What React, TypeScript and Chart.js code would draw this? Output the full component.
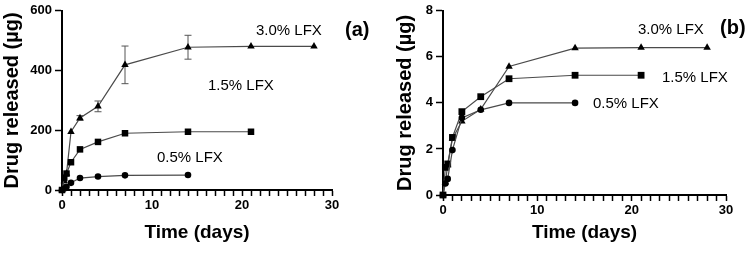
import React, { useEffect, useRef } from "react";
import { Chart, registerables } from "chart.js";

Chart.register(...registerables);

const FONT = "'Liberation Sans', Arial, Helvetica, sans-serif";

// ---------- Panel (a): Drug released (µg) ----------
const aTime05 = [0, 0.25, 0.5, 1, 2, 4, 7, 14];
const aVal05 = [0, 5, 11, 24, 40, 45, 49, 50];

const aTime15 = [0, 0.25, 0.5, 1, 2, 4, 7, 14, 21];
const aVal15 = [0, 40, 55, 93, 136, 161, 190, 195, 195];

const aTime30 = [0, 0.25, 0.5, 1, 2, 4, 7, 14, 21, 28];
const aVal30 = [0, 30, 55, 195, 241, 280, 419, 478, 481, 481];
const aErr30 = [0, 0, 0, 0, 8, 18, 63, 40, 0, 0];

// ---------- Panel (b): Drug released (µg) ----------
const bTime05 = [0, 0.25, 0.5, 1, 2, 4, 7, 14];
const bVal05 = [0, 0.5, 0.7, 1.95, 3.35, 3.7, 4.0, 4.0];

const bTime15 = [0, 0.25, 0.5, 1, 2, 4, 7, 14, 21];
const bVal15 = [0, 1.2, 1.35, 2.5, 3.62, 4.27, 5.05, 5.2, 5.2];

const bTime30 = [0, 0.25, 0.5, 1, 2, 4, 7, 14, 21, 28];
const bVal30 = [0, 0.55, 1.3, 2.45, 3.2, 3.72, 5.58, 6.38, 6.4, 6.4];

const seriesNames = ["0.5% LFX", "1.5% LFX", "3.0% LFX"];
const xTitle = "Time (days)";
const yTitle = "Drug released (µg)";

type Label = { text: string; x: number; y: number; bold?: boolean; size: number };

function pts(t: number[], v: number[]) {
  return t.map((x, i) => ({ x, y: v[i] }));
}

function makeConfig(opts: {
  d05: { x: number; y: number }[];
  d15: { x: number; y: number }[];
  d30: { x: number; y: number }[];
  err30: number[] | null;
  yMax: number;
  yStep: number;
  yWidth: number;
  xHeight: number;
  padTop: number;
  padRight: number;
  yTitlePad: number;
  labels: Label[];
  pr: { c: number; r: number; t: number };
}) {
  const line = "#4a4a4a";
  const common = {
    showLine: true,
    borderColor: line,
    borderWidth: 1.2,
    pointBackgroundColor: "#000",
    pointBorderColor: "#000",
    pointBorderWidth: 0,
    clip: false as any,
    tension: 0,
  };
  const overlay = {
    id: "overlay",
    beforeDatasetsDraw(chart: any) {
      if (!opts.err30) return;
      const ctx = chart.ctx;
      const xs = chart.scales.x;
      const ys = chart.scales.y;
      ctx.save();
      ctx.strokeStyle = "#555";
      ctx.lineWidth = 1;
      opts.d30.forEach((p, i) => {
        const e = opts.err30![i];
        if (!e) return;
        const px = xs.getPixelForValue(p.x);
        const y1 = ys.getPixelForValue(p.y + e);
        const y2 = ys.getPixelForValue(p.y - e);
        ctx.beginPath();
        ctx.moveTo(px, y1);
        ctx.lineTo(px, y2);
        ctx.moveTo(px - 3.5, y1);
        ctx.lineTo(px + 3.5, y1);
        ctx.moveTo(px - 3.5, y2);
        ctx.lineTo(px + 3.5, y2);
        ctx.stroke();
      });
      ctx.restore();
    },
    afterDraw(chart: any) {
      const ctx = chart.ctx;
      ctx.save();
      ctx.fillStyle = "#000";
      ctx.textBaseline = "middle";
      ctx.textAlign = "left";
      opts.labels.forEach((l) => {
        ctx.font = `${l.bold ? "bold " : ""}${l.size}px ${FONT}`;
        ctx.fillText(l.text, l.x, l.y);
      });
      ctx.restore();
    },
  };
  return {
    type: "scatter" as const,
    data: {
      datasets: [
        { ...common, label: seriesNames[0], data: opts.d05, pointStyle: "circle", pointRadius: opts.pr.c },
        { ...common, label: seriesNames[1], data: opts.d15, pointStyle: "rect", pointRadius: opts.pr.r },
        { ...common, label: seriesNames[2], data: opts.d30, pointStyle: "triangle", pointRadius: opts.pr.t },
      ],
    },
    options: {
      animation: false as const,
      responsive: false,
      maintainAspectRatio: false,
      devicePixelRatio: 1,
      layout: { padding: { top: opts.padTop, right: opts.padRight, left: 0, bottom: 0 } },
      plugins: { legend: { display: false }, tooltip: { enabled: false }, title: { display: false } },
      scales: {
        x: {
          type: "linear" as const,
          min: 0,
          max: 30,
          afterFit: (s: any) => {
            s.height = opts.xHeight;
          },
          border: { display: true, color: "#000", width: 2 },
          grid: { display: true, drawOnChartArea: false, drawTicks: true, tickLength: 6, tickWidth: 1.5, tickColor: "#000" },
          ticks: {
            stepSize: 1,
            autoSkip: false,
            maxRotation: 0,
            padding: 2,
            color: "#000",
            font: { family: FONT, size: 13, weight: "bold" as const },
            callback: (v: any) => (Number(v) % 10 === 0 ? String(v) : ""),
          },
          title: {
            display: true,
            text: xTitle,
            color: "#000",
            font: { family: FONT, size: 19, weight: "bold" as const },
            padding: { top: 0, bottom: 8.5 },
          },
        },
        y: {
          type: "linear" as const,
          min: 0,
          max: opts.yMax,
          afterFit: (s: any) => {
            s.width = opts.yWidth;
          },
          border: { display: true, color: "#000", width: 2 },
          grid: { display: true, drawOnChartArea: false, drawTicks: true, tickLength: 7, tickWidth: 1.5, tickColor: "#000" },
          ticks: {
            stepSize: opts.yStep,
            padding: 3,
            color: "#000",
            font: { family: FONT, size: 13, weight: "bold" as const },
          },
          title: {
            display: true,
            text: yTitle,
            color: "#000",
            font: { family: FONT, size: 20, weight: "bold" as const },
            padding: { top: opts.yTitlePad, bottom: 0 },
          },
        },
      },
    },
    plugins: [overlay],
  };
}

function Panel({ config, w, h, left }: { config: any; w: number; h: number; left: number }) {
  const ref = useRef<HTMLCanvasElement>(null);
  useEffect(() => {
    const chart = new Chart(ref.current!, config);
    return () => chart.destroy();
  }, []);
  return (
    <canvas
      ref={ref}
      width={w}
      height={h}
      style={{ position: "absolute", left, top: 0, width: w, height: h }}
    />
  );
}

export default function App() {
  const cfgA = makeConfig({
    d05: pts(aTime05, aVal05),
    d15: pts(aTime15, aVal15),
    d30: pts(aTime30, aVal30),
    err30: aErr30,
    yMax: 600,
    yStep: 200,
    yWidth: 62,
    xHeight: 63,
    padTop: 10,
    padRight: 43,
    yTitlePad: 0,
    labels: [
      { text: seriesNames[2], x: 256, y: 31, size: 15 },
      { text: seriesNames[1], x: 208, y: 86, size: 15 },
      { text: seriesNames[0], x: 157, y: 158, size: 15 },
      { text: "(a)", x: 345, y: 30, size: 20, bold: true },
    ],
    pr: { c: 3.3, r: 4.6, t: 4.3 },
  });
  const cfgB = makeConfig({
    d05: pts(bTime05, bVal05),
    d15: pts(bTime15, bVal15),
    d30: pts(bTime30, bVal30),
    err30: null,
    yMax: 8,
    yStep: 2,
    yWidth: 68,
    xHeight: 58,
    padTop: 10.7,
    padRight: 23,
    yTitlePad: 18,
    labels: [
      { text: seriesNames[2], x: 263, y: 30, size: 15 },
      { text: seriesNames[1], x: 287, y: 77.5, size: 15 },
      { text: seriesNames[0], x: 218, y: 103.5, size: 15 },
      { text: "(b)", x: 345, y: 28.5, size: 20, bold: true },
    ],
    pr: { c: 3.3, r: 4.8, t: 4.3 },
  });
  return (
    <div style={{ position: "absolute", left: 0, top: 0, width: 749, height: 253, background: "#fff" }}>
      <Panel config={cfgA} w={375} h={253} left={0} />
      <Panel config={cfgB} w={374} h={253} left={375} />
    </div>
  );
}
